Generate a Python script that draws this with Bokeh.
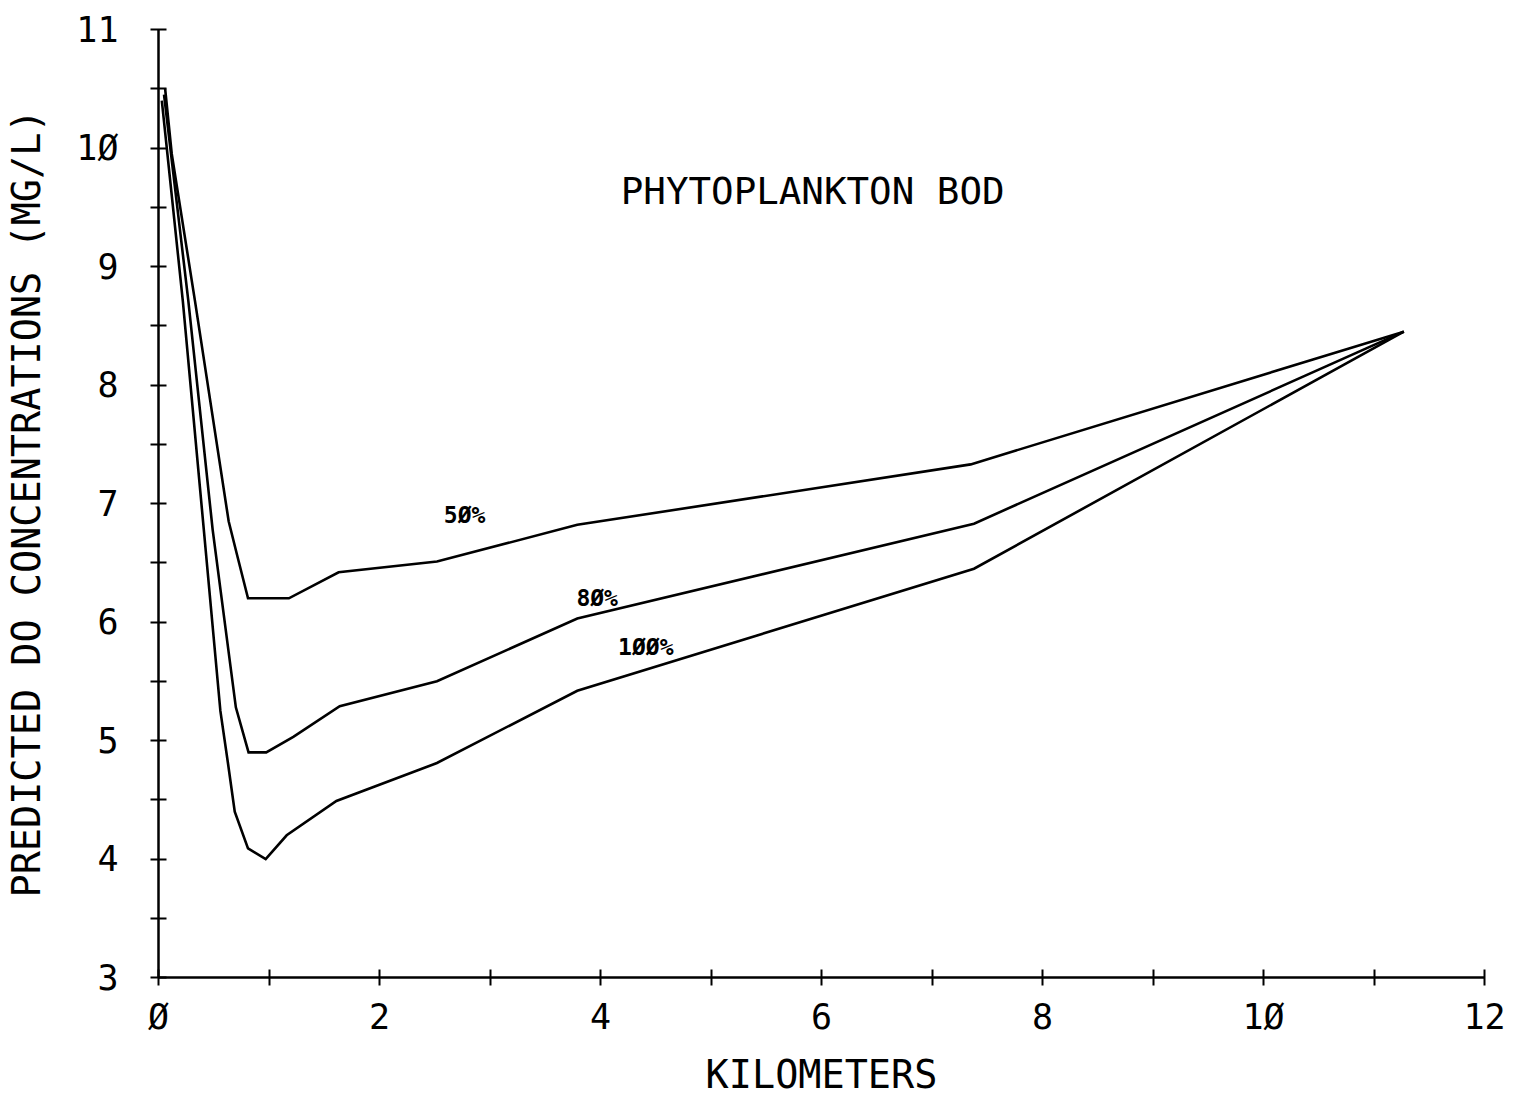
from bokeh.plotting import figure
from bokeh.models import FixedTicker, Label, ColumnDataSource
from bokeh.core.properties import value
from bokeh.embed import file_html
from bokeh.resources import INLINE

# Data (km downstream, predicted DO mg/L)
km_50 = [0.06, 0.12, 0.33, 0.635, 0.71, 0.81, 1.18, 1.63, 2.52, 3.79, 7.35, 11.27]
do_50 = [10.5, 9.95, 8.71, 6.85, 6.57, 6.2, 6.2, 6.42, 6.51, 6.82, 7.33, 8.45]

km_80 = [0.05, 0.27, 0.49, 0.70, 0.815, 0.975, 1.22, 1.64, 2.52, 3.79, 7.38, 11.27]
do_80 = [10.45, 8.71, 6.78, 5.28, 4.9, 4.9, 5.03, 5.29, 5.5, 6.03, 6.83, 8.45]

km_100 = [0.03, 0.22, 0.41, 0.56, 0.63, 0.69, 0.81, 0.97, 1.16, 1.61, 2.52, 3.79, 7.38, 11.27]
do_100 = [10.4, 8.71, 6.78, 5.25, 4.8, 4.4, 4.09, 4.0, 4.2, 4.49, 4.81, 5.42, 6.45, 8.45]

curve_labels = ["5Ø%", "8Ø%", "1ØØ%"]
label_km = [2.77, 3.97, 4.41]
label_do = [6.9, 6.2, 5.79]

x_major = [0, 2, 4, 6, 8, 10, 12]
x_minor = [1, 3, 5, 7, 9, 11]
y_major = [3, 4, 5, 6, 7, 8, 9, 10, 11]
y_minor = [3.5, 4.5, 5.5, 6.5, 7.5, 8.5, 9.5, 10.5]

title_text = "PHYTOPLANKTON BOD"
x_title = "KILOMETERS"
y_title = "PREDICTED DO CONCENTRATIONS (MG/L)"

FONT = "DejaVu Sans Mono"

p = figure(width=1514, height=1099, x_range=(0, 12), y_range=(3, 11),
           output_backend="svg", toolbar_location=None,
           min_border_left=158, min_border_right=30,
           min_border_top=29, min_border_bottom=122)
p.outline_line_color = None
p.xgrid.visible = False
p.ygrid.visible = False
p.background_fill_color = "white"
p.border_fill_color = "white"

for xs, ys in [(km_50, do_50), (km_80, do_80), (km_100, do_100)]:
    p.line(xs, ys, line_color="black", line_width=2.6, line_join="miter")

src = ColumnDataSource(dict(x=label_km, y=label_do, t=curve_labels))
p.text(x="x", y="y", text="t", source=src, text_align="center",
       text_baseline="middle", text_font=value(FONT), text_font_size="23px",
       text_font_style="bold", text_color="black")

p.add_layout(Label(x=5.92, y=9.64, text=title_text, text_align="center",
                   text_baseline="middle", text_font=FONT,
                   text_font_size="37.5px", text_color="black"))

for ax, maj, mnr in [(p.xaxis[0], x_major, x_minor), (p.yaxis[0], y_major, y_minor)]:
    ax.ticker = FixedTicker(ticks=maj, minor_ticks=mnr)
    ax.axis_line_width = 2.5
    ax.axis_line_color = "black"
    ax.major_tick_in = 8
    ax.major_tick_out = 8
    ax.minor_tick_in = 8
    ax.minor_tick_out = 8
    ax.major_tick_line_width = 2
    ax.minor_tick_line_width = 2
    ax.major_tick_line_color = "black"
    ax.minor_tick_line_color = "black"
    ax.major_label_text_font = FONT
    ax.major_label_text_font_size = "35px"
    ax.major_label_text_color = "black"
    ax.axis_label_text_font = FONT
    ax.axis_label_text_font_size = "38.5px"
    ax.axis_label_text_font_style = "normal"
    ax.axis_label_text_color = "black"

p.xaxis[0].major_label_overrides = {0: "Ø", 10: "1Ø"}
p.yaxis[0].major_label_overrides = {10: "1Ø"}
p.xaxis[0].major_label_standoff = 11
p.yaxis[0].major_label_standoff = 32
p.xaxis[0].axis_label = x_title
p.yaxis[0].axis_label = y_title
p.xaxis[0].axis_label_standoff = 12
p.yaxis[0].axis_label_standoff = 24

open("out.html", "w").write(file_html(p, INLINE))
